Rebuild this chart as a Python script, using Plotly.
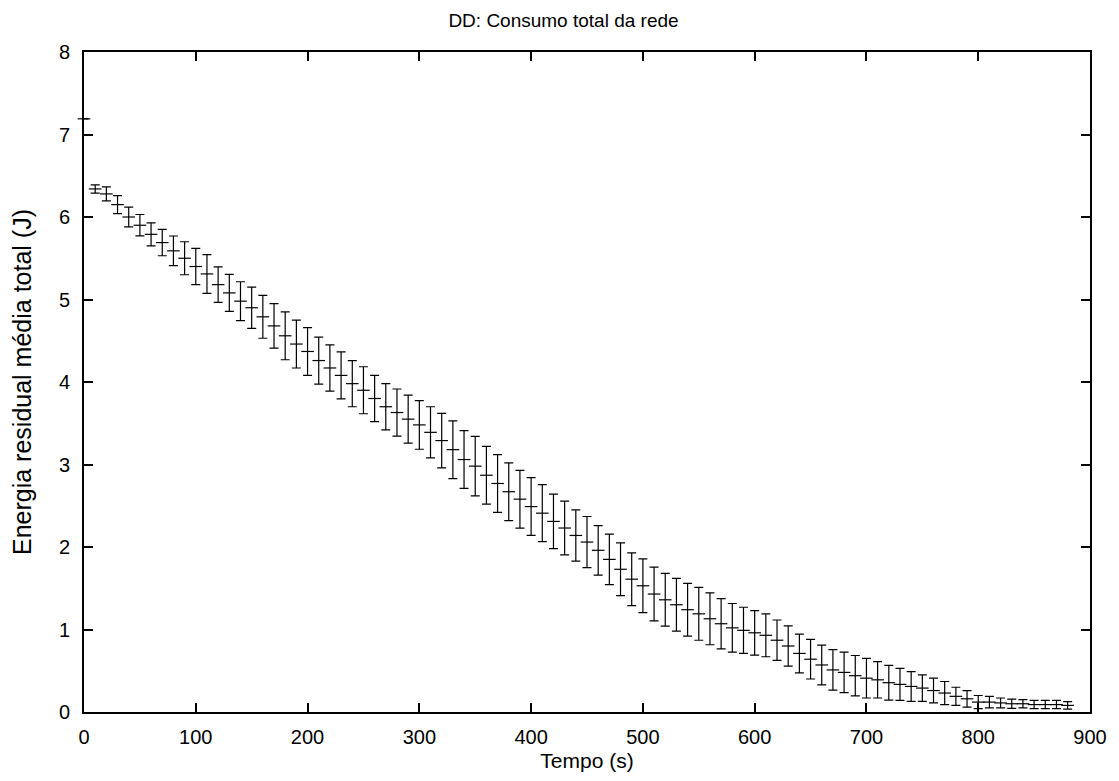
import plotly.graph_objects as go

# time (s)
tempo = [0, 10, 20, 30, 40, 50, 60, 70, 80, 90, 100, 110, 120, 130, 140, 150, 160, 170, 180, 190,
         200, 210, 220, 230, 240, 250, 260, 270, 280, 290, 300, 310, 320, 330, 340, 350, 360, 370,
         380, 390, 400, 410, 420, 430, 440, 450, 460, 470, 480, 490, 500, 510, 520, 530, 540, 550,
         560, 570, 580, 590, 600, 610, 620, 630, 640, 650, 660, 670, 680, 690, 700, 710, 720, 730,
         740, 750, 760, 770, 780, 790, 800, 810, 820, 830, 840, 850, 860, 870, 880]

# mean residual energy (J)
energia = [7.19, 6.34, 6.28, 6.15, 6.00, 5.90, 5.79, 5.69, 5.59, 5.50, 5.40, 5.31, 5.18, 5.08, 4.98,
           4.90, 4.79, 4.68, 4.56, 4.46, 4.37, 4.26, 4.17, 4.08, 3.98, 3.90, 3.80, 3.70, 3.63, 3.55,
           3.48, 3.39, 3.29, 3.18, 3.06, 2.98, 2.87, 2.77, 2.67, 2.58, 2.49, 2.41, 2.31, 2.23, 2.14,
           2.06, 1.96, 1.85, 1.73, 1.61, 1.53, 1.43, 1.36, 1.30, 1.24, 1.19, 1.13, 1.07, 1.02, 0.99,
           0.96, 0.93, 0.87, 0.80, 0.71, 0.64, 0.57, 0.51, 0.48, 0.44, 0.41, 0.39, 0.355, 0.335,
           0.31, 0.29, 0.26, 0.23, 0.19, 0.16, 0.12, 0.12, 0.11, 0.10, 0.10, 0.09, 0.09, 0.09, 0.08]

# error (J)
erro = [0.0, 0.05, 0.085, 0.11, 0.12, 0.13, 0.14, 0.16, 0.18, 0.20, 0.22, 0.235, 0.215, 0.225, 0.235,
        0.25, 0.26, 0.27, 0.29, 0.29, 0.29, 0.285, 0.28, 0.285, 0.28, 0.285, 0.28, 0.28, 0.285, 0.29,
        0.295, 0.31, 0.33, 0.35, 0.35, 0.36, 0.35, 0.35, 0.35, 0.35, 0.35, 0.345, 0.33, 0.325, 0.31,
        0.31, 0.30, 0.305, 0.32, 0.32, 0.325, 0.325, 0.32, 0.32, 0.32, 0.32, 0.315, 0.305, 0.295, 0.28,
        0.27, 0.26, 0.245, 0.245, 0.235, 0.24, 0.24, 0.245, 0.245, 0.245, 0.24, 0.22, 0.21, 0.195,
        0.18, 0.16, 0.15, 0.14, 0.11, 0.10, 0.08, 0.07, 0.06, 0.055, 0.05, 0.05, 0.05, 0.05, 0.045]

x_ticks = [0, 100, 200, 300, 400, 500, 600, 700, 800, 900]
y_ticks = [0, 1, 2, 3, 4, 5, 6, 7, 8]

FONT = "Liberation Sans, Arial, Helvetica, sans-serif"

fig = go.Figure()
fig.add_trace(go.Scatter(
    x=tempo, y=energia, mode="markers",
    marker=dict(symbol="line-ew", size=9, color="black", line=dict(color="black", width=1.2)),
    error_y=dict(type="data", array=erro, visible=True, color="black", thickness=1.2, width=4.5),
    cliponaxis=False, showlegend=False,
))

axis_common = dict(
    showline=True, linecolor="black", linewidth=1.8, mirror="ticks",
    ticks="inside", ticklen=9, tickwidth=1.8, tickcolor="black",
    showgrid=False, zeroline=False,
    tickfont=dict(family=FONT, size=20, color="black"),
)

fig.update_layout(
    width=1111, height=773,
    paper_bgcolor="white", plot_bgcolor="white",
    margin=dict(l=76, r=25, t=44, b=68),
    title=dict(text="DD: Consumo total da rede", x=0.5, xanchor="center", y=0.984, yanchor="middle",
               font=dict(family=FONT, size=19, color="black")),
    xaxis=dict(range=[0, 900], tickvals=x_ticks, ticktext=[str(v) for v in x_ticks],
               ticklabelstandoff=6,
               title=dict(text="Tempo (s)", font=dict(family=FONT, size=21, color="black"), standoff=6),
               **axis_common),
    yaxis=dict(range=[0, 8], tickvals=y_ticks, ticktext=[str(v) for v in y_ticks],
               ticklabelstandoff=8,
               title=dict(text="Energia residual média total (J)", font=dict(family=FONT, size=25, color="black"), standoff=20),
               **axis_common),
)

fig.write_html("out.html")
